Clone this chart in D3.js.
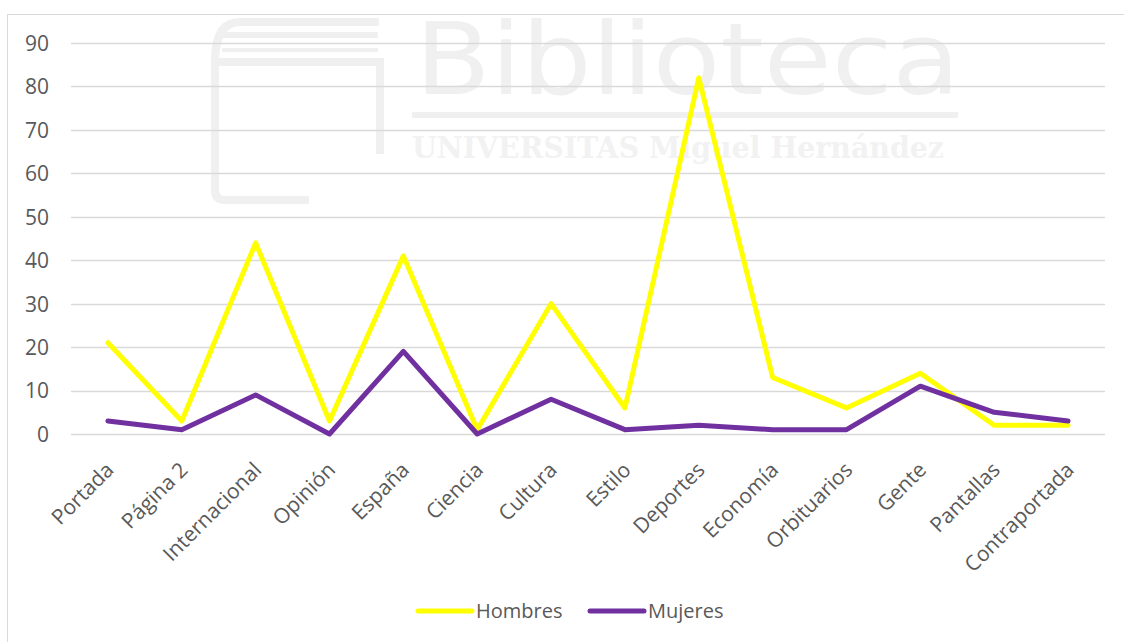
<!DOCTYPE html>
<html>
<head>
<meta charset="utf-8">
<script src="https://cdn.jsdelivr.net/npm/d3@7/dist/d3.min.js"></script>
<style>
  html, body { margin: 0; padding: 0; background: #fff; }
  svg { display: block; }
  text { font-family: "Open Sans", "Noto Sans", sans-serif; }
</style>
</head>
<body>
<svg id="chart" width="1124" height="642"></svg>
<script>
// Newspaper sections and the count of names per section, by gender
const categories = ["Portada", "Página 2", "Internacional", "Opinión", "España", "Ciencia",
  "Cultura", "Estilo", "Deportes", "Economía", "Orbituarios", "Gente", "Pantallas", "Contraportada"];
const hombres = [21, 3, 44, 3, 41, 1, 30, 6, 82, 13, 6, 14, 2, 2];
const mujeres = [3, 1, 9, 0, 19, 0, 8, 1, 2, 1, 1, 11, 5, 3];
const yTicks = [0, 10, 20, 30, 40, 50, 60, 70, 80, 90];
const seriesNames = ["Hombres", "Mujeres"];
const seriesColors = ["#FFFF00", "#7030A0"];

const svg = d3.select("#chart");
const W = 1124, H = 642;
const plot = { left: 71, right: 1105, top: 43, bottom: 434 };
const fontSize = "21px";

// Chart area frame
svg.append("rect")
  .attr("x", 7.5).attr("y", 14.5)
  .attr("width", W + 20).attr("height", H + 20)
  .attr("fill", "#fff").attr("stroke", "#d9d9d9").attr("stroke-width", 1);

// Faint library watermark behind the plot
const wm = svg.append("g").attr("fill", "none").attr("stroke", "#f0f0f0");
wm.append("path")
  .attr("d", "M215,60 L215,190 Q215,200 225,200 L305,200 M215,60 Q215,22 240,22 L375,22 M220,62 L380,62 L380,150")
  .attr("stroke-width", 8).attr("stroke-linecap", "square");
wm.append("line").attr("x1", 222).attr("x2", 378).attr("y1", 35).attr("y2", 35).attr("stroke-width", 6);
wm.append("line").attr("x1", 222).attr("x2", 378).attr("y1", 50).attr("y2", 50).attr("stroke-width", 4);
wm.append("line").attr("x1", 412).attr("x2", 958).attr("y1", 115).attr("y2", 115).attr("stroke-width", 6);
svg.append("text")
  .attr("x", 415).attr("y", 94)
  .attr("textLength", 545).attr("lengthAdjust", "spacingAndGlyphs")
  .attr("fill", "#f0f0f0")
  .style("font-family", "'DejaVu Sans', sans-serif")
  .style("font-size", "100px")
  .text("Biblioteca");
svg.append("text")
  .attr("x", 412).attr("y", 158)
  .attr("textLength", 532).attr("lengthAdjust", "spacingAndGlyphs")
  .attr("fill", "#f2f2f2")
  .style("font-family", "'DejaVu Serif', serif")
  .style("font-size", "30px").style("font-weight", "bold")
  .text("UNIVERSITAS Miguel Hernández");

// Scales
const x = d3.scaleBand().domain(categories).range([plot.left, plot.right]);
const y = d3.scaleLinear().domain([0, 90]).range([plot.bottom, plot.top]);
const cx = d => x(d) + x.bandwidth() / 2;

// Horizontal gridlines
svg.append("g")
  .selectAll("line")
  .data(yTicks)
  .join("line")
  .attr("x1", plot.left).attr("x2", plot.right)
  .attr("y1", d => Math.round(y(d)) + 0.5).attr("y2", d => Math.round(y(d)) + 0.5)
  .attr("stroke", "#d9d9d9").attr("stroke-width", 1.5);

// Y axis labels
const yAxis = d3.axisLeft(y).tickValues(yTicks).tickSize(0).tickPadding(0);
svg.append("g")
  .attr("transform", `translate(49,0)`)
  .call(yAxis)
  .call(g => g.select(".domain").remove())
  .call(g => g.selectAll("text")
    .attr("fill", "#595959")
    .style("font-size", fontSize)
    .style("font-family", "'Open Sans', sans-serif")
    .attr("dy", "0.35em"));

// Rotated category labels
const xAxis = d3.axisBottom(x).tickSize(0).tickPadding(0);
svg.append("g")
  .attr("transform", `translate(0,${plot.bottom})`)
  .call(xAxis)
  .call(g => g.select(".domain").remove())
  .call(g => g.selectAll("text")
    .attr("fill", "#595959")
    .style("font-size", fontSize)
    .style("font-family", "'Open Sans', sans-serif")
    .attr("text-anchor", "end")
    .attr("y", 0).attr("dy", "0.35em")
    .attr("transform", "translate(2,32) rotate(-45)"));

// Series lines
const line = d3.line()
  .x((d, i) => cx(categories[i]))
  .y(d => y(d));

[hombres, mujeres].forEach((vals, i) => {
  svg.append("path")
    .datum(vals)
    .attr("d", line)
    .attr("fill", "none")
    .attr("stroke", seriesColors[i])
    .attr("stroke-width", 5)
    .attr("stroke-linejoin", "round")
    .attr("stroke-linecap", "round");
});

// Legend
const legendItems = [
  { name: seriesNames[0], color: seriesColors[0], x: 418 },
  { name: seriesNames[1], color: seriesColors[1], x: 590 }
];
const lg = svg.append("g");
legendItems.forEach(it => {
  lg.append("line")
    .attr("x1", it.x).attr("x2", it.x + 54)
    .attr("y1", 611).attr("y2", 611)
    .attr("stroke", it.color).attr("stroke-width", 5)
    .attr("stroke-linecap", "round");
  lg.append("text")
    .attr("x", it.x + 58).attr("y", 611)
    .attr("dy", "0.35em")
    .attr("fill", "#595959")
    .style("font-size", "20px")
    .text(it.name);
});
</script>
</body>
</html>
